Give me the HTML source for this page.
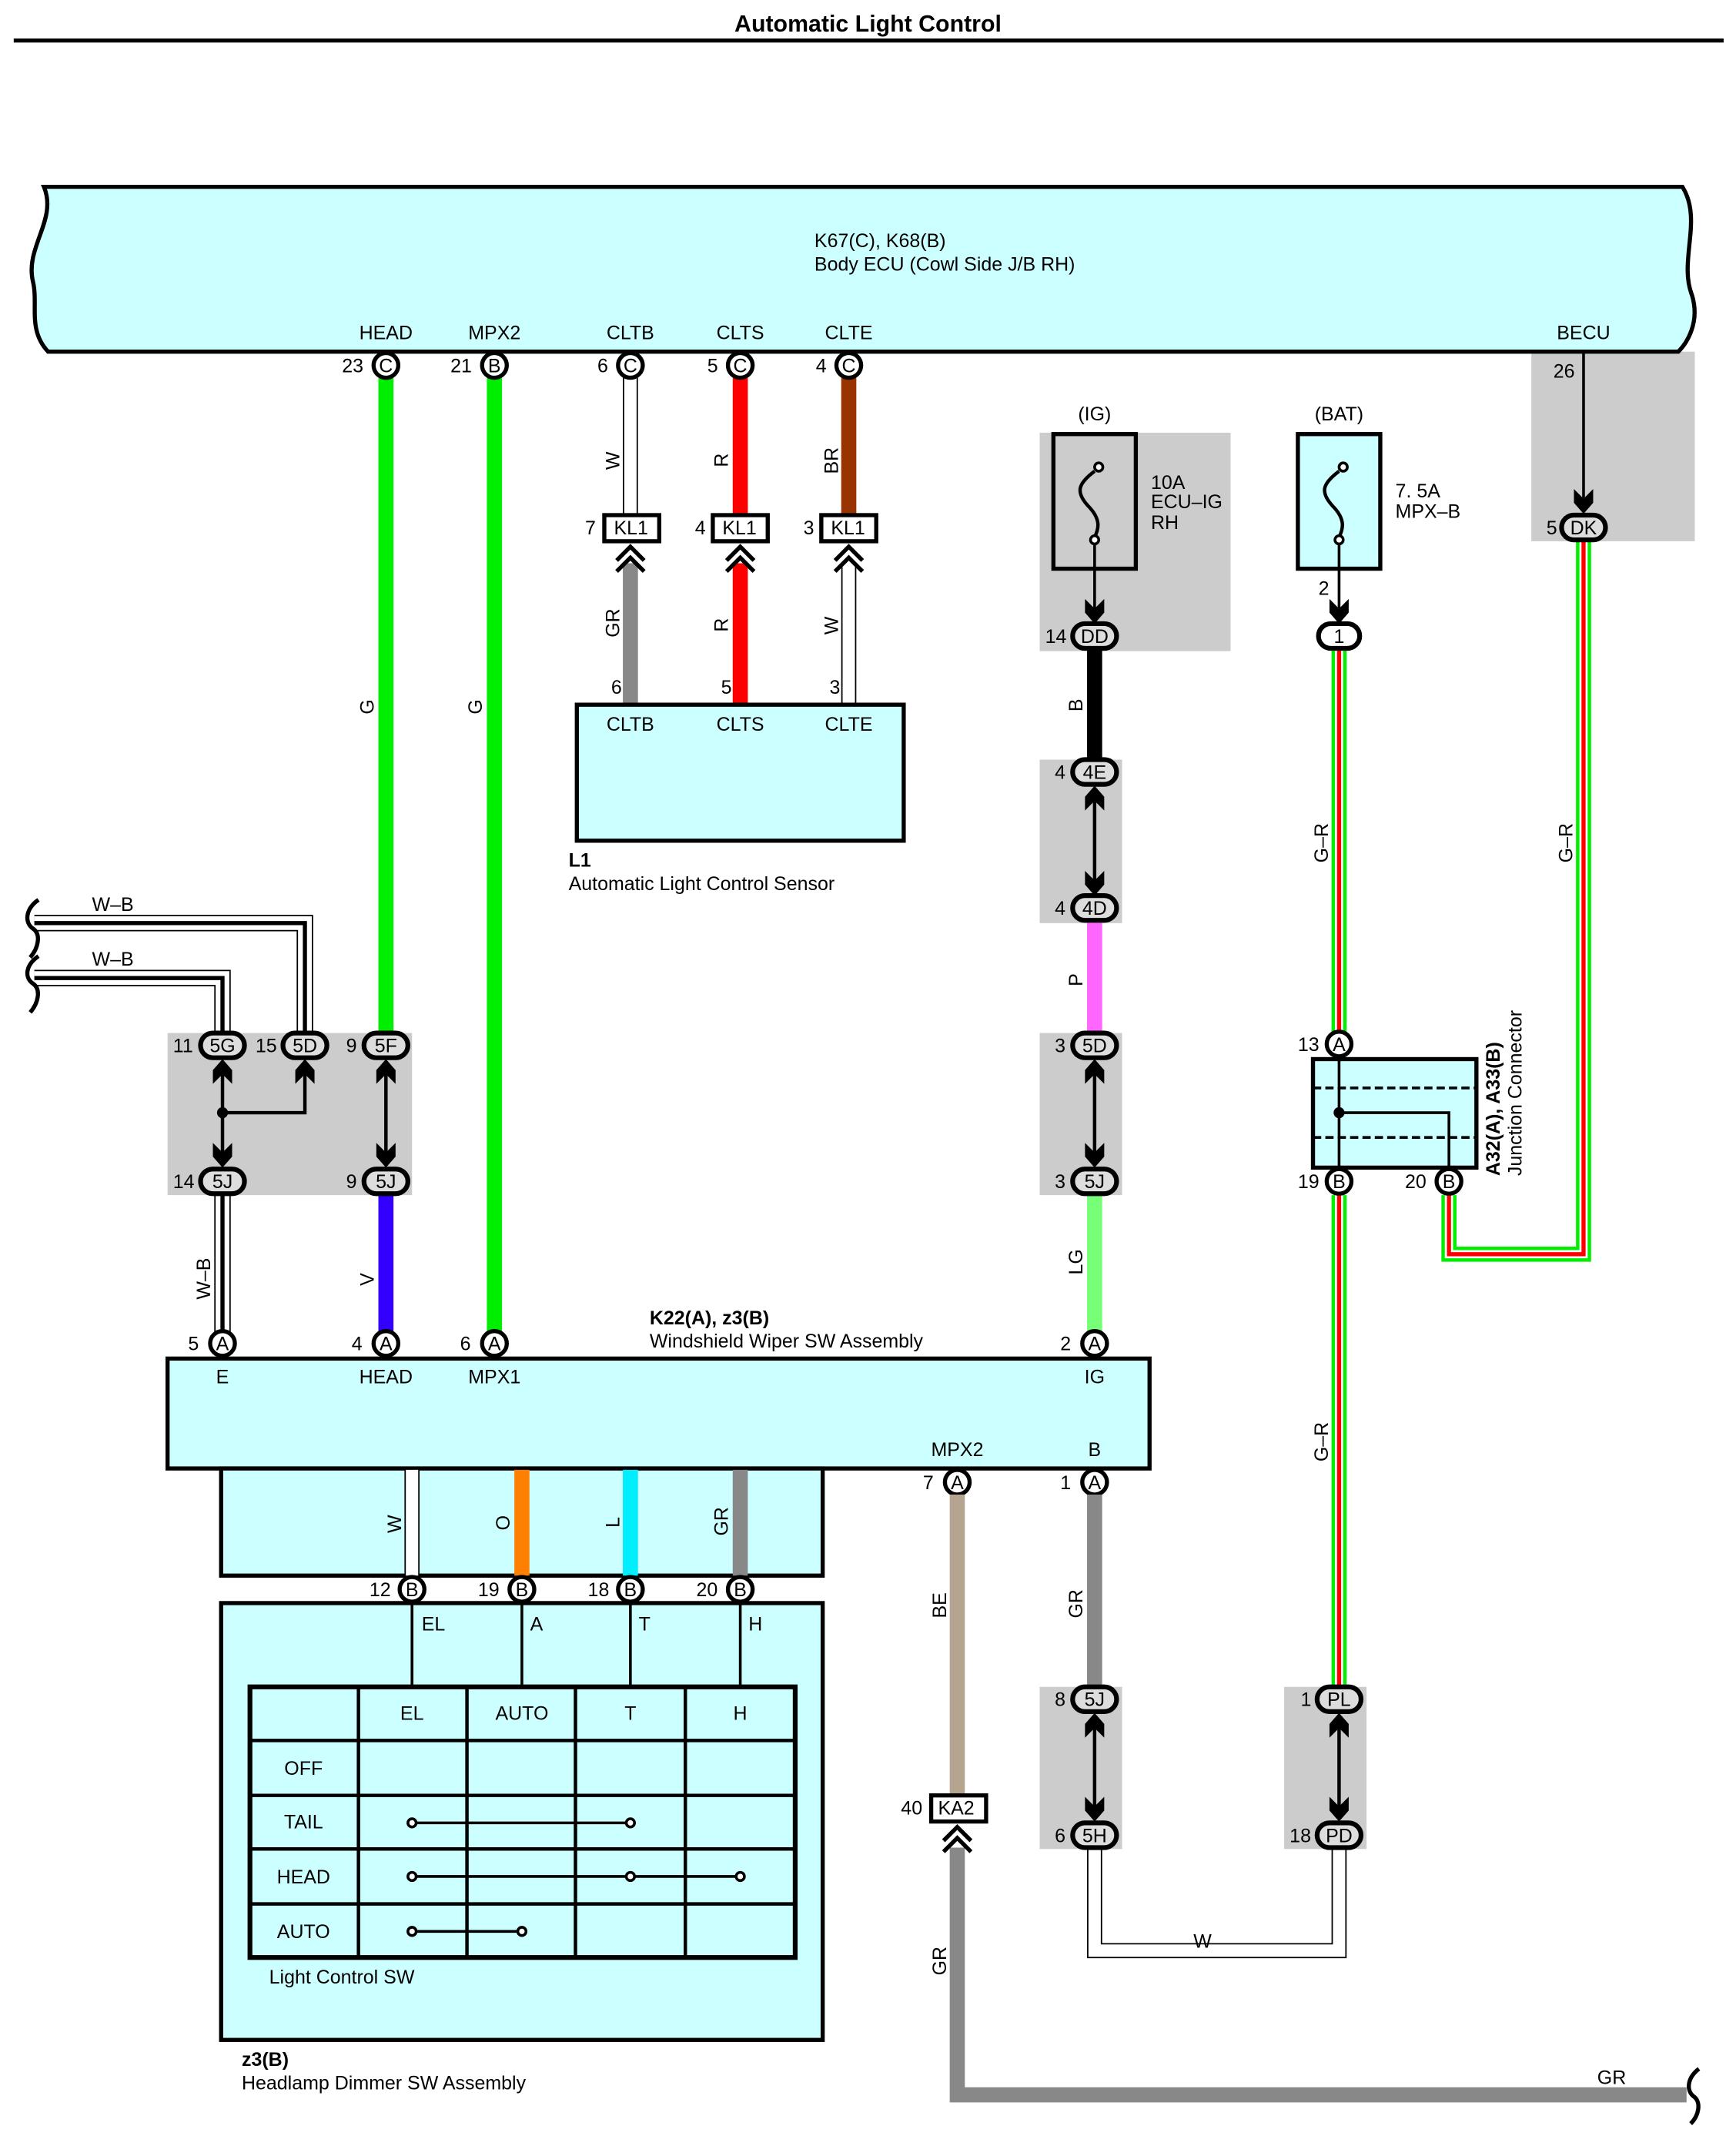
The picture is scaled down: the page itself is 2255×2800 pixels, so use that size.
<!DOCTYPE html>
<html><head><meta charset="utf-8"><style>
html,body{margin:0;padding:0;background:#fff}
svg{display:block}
text{font-family:"Liberation Sans",sans-serif;font-size:14px;fill:#000}
.b{font-weight:bold}
</style></head><body>
<svg width="2255" height="2800" viewBox="0 0 1264 1569.5" xmlns="http://www.w3.org/2000/svg">
<defs>
<path id="ad" d="M-7,-18 L0,-11 L7,-18 L7,-8 L0,0 L-7,-8 Z" fill="#000"/>
<path id="au" d="M-7,18 L0,11 L7,18 L7,8 L0,0 L-7,8 Z" fill="#000"/>
<path id="chev" d="M-10,8 L0,-2 L10,8 M-10,16 L0,6 L10,16" fill="none" stroke="#000" stroke-width="3"/>
</defs>
<!-- title -->
<text x="632" y="23" text-anchor="middle" class="b" style="font-size:17px">Automatic Light Control</text>
<line x1="10" y1="29.5" x2="1255" y2="29.5" stroke="#000" stroke-width="3"/>

<!-- gray boxes -->
<rect x="1115" y="256" width="119" height="138" fill="#cccccc"/>
<rect x="757" y="315" width="139" height="159" fill="#cccccc"/>
<rect x="757" y="553" width="60" height="119" fill="#cccccc"/>
<rect x="757" y="752" width="60" height="118" fill="#cccccc"/>
<rect x="122" y="752" width="178" height="118" fill="#cccccc"/>
<rect x="757" y="1228" width="60" height="118" fill="#cccccc"/>
<rect x="935" y="1228" width="60" height="118" fill="#cccccc"/>

<!-- ECU -->
<path d="M32,136 L1225,136 C1240,160 1222,190 1232,215 C1238,235 1228,250 1222,256 L35,256 C20,240 28,222 24,205 C18,180 42,160 32,136 Z" fill="#ccffff" stroke="#000" stroke-width="3"/>
<text x="593" y="180">K67(C), K68(B)</text>
<text x="593" y="197">Body ECU (Cowl Side J/B RH)</text>
<g text-anchor="middle">
<text x="281" y="247">HEAD</text><text x="360" y="247">MPX2</text><text x="459" y="247">CLTB</text><text x="539" y="247">CLTS</text><text x="618" y="247">CLTE</text><text x="1153" y="247">BECU</text>
</g>

<!-- wires top -->
<line x1="281" y1="275" x2="281" y2="752" stroke="#00ee00" stroke-width="11"/>
<line x1="360" y1="275" x2="360" y2="970" stroke="#00ee00" stroke-width="11"/>
<line x1="459" y1="275" x2="459" y2="376" stroke="#000" stroke-width="11"/><line x1="459" y1="275" x2="459" y2="376" stroke="#fff" stroke-width="9"/>
<line x1="539" y1="275" x2="539" y2="376" stroke="#ff0000" stroke-width="11"/>
<line x1="618" y1="275" x2="618" y2="376" stroke="#993300" stroke-width="11"/>
<line x1="459" y1="410" x2="459" y2="513" stroke="#888" stroke-width="11"/>
<line x1="539" y1="410" x2="539" y2="513" stroke="#ff0000" stroke-width="11"/>
<line x1="618" y1="410" x2="618" y2="513" stroke="#000" stroke-width="11"/><line x1="618" y1="410" x2="618" y2="513" stroke="#fff" stroke-width="9"/>
<g font-size="14">
<text transform="translate(272,520) rotate(-90)">G</text>
<text transform="translate(351,520) rotate(-90)">G</text>
<text transform="translate(451,342) rotate(-90)">W</text>
<text transform="translate(530,340) rotate(-90)">R</text>
<text transform="translate(610,345) rotate(-90)">BR</text>
<text transform="translate(451,464) rotate(-90)">GR</text>
<text transform="translate(530,460) rotate(-90)">R</text>
<text transform="translate(610,462) rotate(-90)">W</text>
</g>
<!-- KL1 -->
<g fill="#fff" stroke="#000" stroke-width="3">
<rect x="440" y="375" width="40" height="19"/><rect x="519" y="375" width="40" height="19"/><rect x="598" y="375" width="40" height="19"/>
</g>
<text x="447" y="389">KL1</text><text x="526" y="389">KL1</text><text x="605" y="389">KL1</text>
<text x="426" y="389">7</text><text x="506" y="389">4</text><text x="585" y="389">3</text>
<use href="#chev" x="459" y="400"/><use href="#chev" x="539" y="400"/><use href="#chev" x="618" y="400"/>
<text x="445" y="505">6</text><text x="525" y="505">5</text><text x="604" y="505">3</text>
<!-- L1 -->
<rect x="420" y="513" width="238" height="99" fill="#ccffff" stroke="#000" stroke-width="3"/>
<g text-anchor="middle"><text x="459" y="532">CLTB</text><text x="539" y="532">CLTS</text><text x="618" y="532">CLTE</text></g>
<text x="414" y="631" class="b">L1</text>
<text x="414" y="648">Automatic Light Control Sensor</text>

<!-- pin circles ECU -->
<g fill="#fff" stroke="#000" stroke-width="3">
<circle cx="281" cy="266" r="9"/><circle cx="360" cy="266" r="9"/><circle cx="459" cy="266" r="9"/><circle cx="539" cy="266" r="9"/><circle cx="618" cy="266" r="9"/>
</g>
<g font-size="12" text-anchor="middle"><text x="281" y="271">C</text><text x="360" y="271">B</text><text x="459" y="271">C</text><text x="539" y="271">C</text><text x="618" y="271">C</text></g>
<text x="249" y="271">23</text><text x="328" y="271">21</text><text x="435" y="271">6</text><text x="515" y="271">5</text><text x="594" y="271">4</text>

<!-- BECU -->
<text x="1131" y="275">26</text>
<line x1="1153" y1="256" x2="1153" y2="370" stroke="#000" stroke-width="2"/>
<use href="#ad" x="1153" y="374"/>

<!-- G-R wires -->
<g fill="none">
<path d="M1153,393 L1153,913 L1055,913 L1055,870" stroke="#00ee00" stroke-width="11"/>
<path d="M1153,393 L1153,913 L1055,913 L1055,870" stroke="#fff" stroke-width="6"/>
<path d="M1153,393 L1153,913 L1055,913 L1055,870" stroke="#ff0000" stroke-width="3"/>
<path d="M975,472 L975,752 M975,870 L975,1228" stroke="#00ee00" stroke-width="11"/>
<path d="M975,472 L975,752 M975,870 L975,1228" stroke="#fff" stroke-width="6"/>
<path d="M975,472 L975,752 M975,870 L975,1228" stroke="#ff0000" stroke-width="3"/>
</g>
<text transform="translate(1145,628) rotate(-90)">G–R</text>
<text transform="translate(967,628) rotate(-90)">G–R</text>
<text transform="translate(967,1064) rotate(-90)">G–R</text>

<!-- IG fuse -->
<text x="797" y="306" text-anchor="middle">(IG)</text>
<rect x="767" y="316" width="60" height="98" fill="#cccccc" stroke="#000" stroke-width="3"/>
<path d="M797,343 C785,352 783,358 792,368 C802,378 800,385 797,391" fill="none" stroke="#000" stroke-width="2.5"/>
<circle cx="800" cy="340" r="3" fill="#fff" stroke="#000" stroke-width="2"/>
<circle cx="797" cy="393" r="3" fill="#fff" stroke="#000" stroke-width="2"/>
<line x1="797" y1="396" x2="797" y2="450" stroke="#000" stroke-width="2"/>
<use href="#ad" x="797" y="454"/>
<text x="838" y="356">10A</text><text x="838" y="370">ECU–IG</text><text x="838" y="385">RH</text>
<!-- BAT fuse -->
<text x="975" y="306" text-anchor="middle">(BAT)</text>
<rect x="945" y="316" width="60" height="98" fill="#ccffff" stroke="#000" stroke-width="3"/>
<path d="M975,343 C963,352 961,358 970,368 C980,378 978,385 975,391" fill="none" stroke="#000" stroke-width="2.5"/>
<circle cx="978" cy="340" r="3" fill="#fff" stroke="#000" stroke-width="2"/>
<circle cx="975" cy="393" r="3" fill="#fff" stroke="#000" stroke-width="2"/>
<line x1="975" y1="396" x2="975" y2="450" stroke="#000" stroke-width="2"/>
<use href="#ad" x="975" y="454"/>
<text x="1016" y="362">7. 5A</text><text x="1016" y="377">MPX–B</text>
<text x="960" y="433">2</text>

<!-- middle column wires -->
<line x1="797" y1="472" x2="797" y2="553" stroke="#000" stroke-width="11"/>
<line x1="797" y1="670" x2="797" y2="752" stroke="#ff66ff" stroke-width="11"/>
<line x1="797" y1="870" x2="797" y2="970" stroke="#77ff77" stroke-width="11"/>
<text transform="translate(788,518) rotate(-90)">B</text>
<text transform="translate(788,718) rotate(-90)">P</text>
<text transform="translate(788,928) rotate(-90)">LG</text>
<line x1="797" y1="580" x2="797" y2="645" stroke="#000" stroke-width="2.5"/>
<use href="#au" x="797" y="572"/><use href="#ad" x="797" y="652"/>
<line x1="797" y1="778" x2="797" y2="845" stroke="#000" stroke-width="2.5"/>
<use href="#au" x="797" y="771"/><use href="#ad" x="797" y="850"/>

<!-- A32 -->
<rect x="956" y="771" width="119" height="79" fill="#ccffff" stroke="#000" stroke-width="3"/>
<line x1="956" y1="792" x2="1075" y2="792" stroke="#000" stroke-width="2" stroke-dasharray="6,3"/>
<line x1="956" y1="828" x2="1075" y2="828" stroke="#000" stroke-width="2" stroke-dasharray="6,3"/>
<path d="M975,760 L975,860 M975,810 L1055,810 L1055,860" fill="none" stroke="#000" stroke-width="2"/>
<circle cx="975" cy="810" r="4" fill="#000"/>
<text transform="translate(1092,856) rotate(-90)" class="b">A32(A), A33(B)</text>
<text transform="translate(1108,856) rotate(-90)">Junction Connector</text>
<g fill="#fff" stroke="#000" stroke-width="3"><circle cx="975" cy="760" r="9"/><circle cx="975" cy="860" r="9"/><circle cx="1055" cy="860" r="9"/></g>
<g font-size="12" text-anchor="middle"><text x="975" y="765">A</text><text x="975" y="865">B</text><text x="1055" y="865">B</text></g>
<text x="945" y="765">13</text><text x="945" y="865">19</text><text x="1023" y="865">20</text>

<!-- left W-B -->
<g fill="none">
<path d="M25,672 L222,672 L222,752" stroke="#000" stroke-width="12"/>
<path d="M25,672 L222,672 L222,752" stroke="#fff" stroke-width="10"/>
<path d="M25,672 L222,672 L222,752" stroke="#000" stroke-width="3"/>
<path d="M25,712 L162,712 L162,752" stroke="#000" stroke-width="12"/>
<path d="M25,712 L162,712 L162,752" stroke="#fff" stroke-width="10"/>
<path d="M25,712 L162,712 L162,752" stroke="#000" stroke-width="3"/>
<path d="M162,870 L162,970" stroke="#000" stroke-width="12"/>
<path d="M162,870 L162,970" stroke="#fff" stroke-width="10"/>
<path d="M162,870 L162,970" stroke="#000" stroke-width="3"/>
<path d="M28,655 C18,662 18,672 24,676 C30,680 28,690 22,697" stroke="#000" stroke-width="3"/>
<path d="M28,696 C18,703 18,712 24,716 C30,720 28,730 22,737" stroke="#000" stroke-width="3"/>
</g>
<text x="67" y="663">W–B</text><text x="67" y="703">W–B</text>
<line x1="281" y1="870" x2="281" y2="970" stroke="#3300ff" stroke-width="11"/>
<text transform="translate(153,946) rotate(-90)">W–B</text>
<text transform="translate(272,936) rotate(-90)">V</text>
<path d="M162,780 L162,845 M162,810 L222,810 L222,780 M281,780 L281,845" fill="none" stroke="#000" stroke-width="2.5"/>
<circle cx="162" cy="810" r="4" fill="#000"/>
<use href="#au" x="162" y="771"/><use href="#au" x="222" y="771"/><use href="#au" x="281" y="771"/>
<use href="#ad" x="162" y="850"/><use href="#ad" x="281" y="850"/>

<!-- K22 -->
<rect x="122" y="989" width="715" height="80" fill="#ccffff" stroke="#000" stroke-width="3"/>
<text x="473" y="964" class="b">K22(A), z3(B)</text>
<text x="473" y="981">Windshield Wiper SW Assembly</text>
<g text-anchor="middle"><text x="162" y="1007">E</text><text x="281" y="1007">HEAD</text><text x="360" y="1007">MPX1</text><text x="797" y="1007">IG</text>
<text x="697" y="1060">MPX2</text><text x="797" y="1060">B</text></g>
<g fill="#fff" stroke="#000" stroke-width="3"><circle cx="162" cy="978" r="9"/><circle cx="281" cy="978" r="9"/><circle cx="360" cy="978" r="9"/><circle cx="797" cy="978" r="9"/><circle cx="697" cy="1079" r="9"/><circle cx="797" cy="1079" r="9"/></g>
<g font-size="12" text-anchor="middle"><text x="162" y="983">A</text><text x="281" y="983">A</text><text x="360" y="983">A</text><text x="797" y="983">A</text><text x="697" y="1084">A</text><text x="797" y="1084">A</text></g>
<text x="137" y="983">5</text><text x="256" y="983">4</text><text x="335" y="983">6</text><text x="772" y="983">2</text><text x="672" y="1084">7</text><text x="772" y="1084">1</text>

<!-- sub box -->
<rect x="161" y="1069" width="438" height="78" fill="#ccffff" stroke="#000" stroke-width="3"/>
<line x1="300" y1="1070" x2="300" y2="1147" stroke="#000" stroke-width="11"/><line x1="300" y1="1070" x2="300" y2="1147" stroke="#fff" stroke-width="9"/>
<line x1="380" y1="1070" x2="380" y2="1147" stroke="#ff8000" stroke-width="11"/>
<line x1="459" y1="1070" x2="459" y2="1147" stroke="#00eeff" stroke-width="11"/>
<line x1="539" y1="1070" x2="539" y2="1147" stroke="#888" stroke-width="11"/>
<text transform="translate(292,1116) rotate(-90)">W</text>
<text transform="translate(371,1114) rotate(-90)">O</text>
<text transform="translate(451,1112) rotate(-90)">L</text>
<text transform="translate(530,1118) rotate(-90)">GR</text>
<!-- dimmer -->
<rect x="161" y="1167" width="438" height="318" fill="#ccffff" stroke="#000" stroke-width="3"/>
<g stroke="#000" stroke-width="2"><line x1="300" y1="1157" x2="300" y2="1227"/><line x1="380" y1="1157" x2="380" y2="1227"/><line x1="459" y1="1157" x2="459" y2="1227"/><line x1="539" y1="1157" x2="539" y2="1227"/></g>
<g fill="#fff" stroke="#000" stroke-width="3"><circle cx="300" cy="1157" r="9"/><circle cx="380" cy="1157" r="9"/><circle cx="459" cy="1157" r="9"/><circle cx="539" cy="1157" r="9"/></g>
<g font-size="12" text-anchor="middle"><text x="300" y="1162">B</text><text x="380" y="1162">B</text><text x="459" y="1162">B</text><text x="539" y="1162">B</text></g>
<text x="269" y="1162">12</text><text x="348" y="1162">19</text><text x="428" y="1162">18</text><text x="507" y="1162">20</text>
<text x="307" y="1187">EL</text><text x="386" y="1187">A</text><text x="465" y="1187">T</text><text x="545" y="1187">H</text>
<rect x="182" y="1228" width="397" height="197" fill="none" stroke="#000" stroke-width="3.5"/>
<g stroke="#000" stroke-width="2.5">
<line x1="261" y1="1228" x2="261" y2="1425"/><line x1="340" y1="1228" x2="340" y2="1425"/><line x1="419" y1="1228" x2="419" y2="1425"/><line x1="499" y1="1228" x2="499" y2="1425"/>
<line x1="182" y1="1267" x2="579" y2="1267"/><line x1="182" y1="1307" x2="579" y2="1307"/><line x1="182" y1="1346" x2="579" y2="1346"/><line x1="182" y1="1386" x2="579" y2="1386"/>
</g>
<g text-anchor="middle"><text x="300" y="1252">EL</text><text x="380" y="1252">AUTO</text><text x="459" y="1252">T</text><text x="539" y="1252">H</text>
<text x="221" y="1292">OFF</text><text x="221" y="1331">TAIL</text><text x="221" y="1371">HEAD</text><text x="221" y="1411">AUTO</text></g>
<g stroke="#000" stroke-width="2"><line x1="300" y1="1327" x2="459" y2="1327"/><line x1="300" y1="1366" x2="539" y2="1366"/><line x1="300" y1="1406" x2="380" y2="1406"/></g>
<g fill="#fff" stroke="#000" stroke-width="2">
<circle cx="300" cy="1327" r="3"/><circle cx="459" cy="1327" r="3"/><circle cx="300" cy="1366" r="3"/><circle cx="459" cy="1366" r="3"/><circle cx="539" cy="1366" r="3"/><circle cx="300" cy="1406" r="3"/><circle cx="380" cy="1406" r="3"/></g>
<text x="196" y="1444">Light Control SW</text>
<text x="176" y="1504" class="b">z3(B)</text>
<text x="176" y="1521">Headlamp Dimmer SW Assembly</text>

<!-- MPX2 BE / GR -->
<line x1="697" y1="1088" x2="697" y2="1307" stroke="#b5a48f" stroke-width="11"/>
<text transform="translate(689,1178) rotate(-90)">BE</text>
<rect x="678" y="1307" width="40" height="19" fill="#fff" stroke="#000" stroke-width="3"/>
<text x="683" y="1321">KA2</text><text x="656" y="1321">40</text>
<path d="M697,1345 L697,1525 L1228,1525" fill="none" stroke="#888" stroke-width="11"/>
<use href="#chev" x="697" y="1332"/>
<path d="M1237,1506 C1228,1513 1228,1522 1233,1526 C1239,1530 1237,1540 1231,1546" fill="none" stroke="#000" stroke-width="3"/>
<text transform="translate(689,1438) rotate(-90)">GR</text>
<text x="1163" y="1517">GR</text>
<line x1="797" y1="1088" x2="797" y2="1228" stroke="#888" stroke-width="11"/>
<text transform="translate(788,1178) rotate(-90)">GR</text>
<path d="M797,1255 L797,1320 M975,1255 L975,1320" stroke="#000" stroke-width="2.5"/>
<use href="#au" x="797" y="1247"/><use href="#ad" x="797" y="1326"/>
<use href="#au" x="975" y="1247"/><use href="#ad" x="975" y="1326"/>
<path d="M797,1346 L797,1420 L975,1420 L975,1346" fill="none" stroke="#000" stroke-width="11"/>
<path d="M797,1346 L797,1420 L975,1420 L975,1346" fill="none" stroke="#fff" stroke-width="9"/>
<text x="869" y="1418">W</text>

<!-- connector ovals -->
<g stroke="#000" stroke-width="3.5">
<rect x="1137" y="375" width="32" height="18" rx="9" fill="#ddd"/>
<rect x="781" y="454" width="32" height="18" rx="9" fill="#ddd"/>
<rect x="960" y="454" width="30" height="18" rx="9" fill="#fff"/>
<rect x="781" y="553" width="32" height="18" rx="9" fill="#ddd"/>
<rect x="781" y="652" width="32" height="18" rx="9" fill="#ddd"/>
<rect x="781" y="752" width="32" height="18" rx="9" fill="#ddd"/>
<rect x="781" y="851" width="32" height="18" rx="9" fill="#ddd"/>
<rect x="146" y="752" width="32" height="18" rx="9" fill="#ddd"/>
<rect x="206" y="752" width="32" height="18" rx="9" fill="#ddd"/>
<rect x="265" y="752" width="32" height="18" rx="9" fill="#ddd"/>
<rect x="146" y="851" width="32" height="18" rx="9" fill="#ddd"/>
<rect x="265" y="851" width="32" height="18" rx="9" fill="#ddd"/>
<rect x="781" y="1228" width="32" height="18" rx="9" fill="#ddd"/>
<rect x="781" y="1327" width="32" height="18" rx="9" fill="#ddd"/>
<rect x="959" y="1228" width="32" height="18" rx="9" fill="#ddd"/>
<rect x="959" y="1327" width="32" height="18" rx="9" fill="#ddd"/>
</g>
<g text-anchor="middle">
<text x="1153" y="389">DK</text><text x="797" y="468">DD</text><text x="975" y="468">1</text>
<text x="797" y="567">4E</text><text x="797" y="666">4D</text><text x="797" y="766">5D</text><text x="797" y="865">5J</text>
<text x="162" y="766">5G</text><text x="222" y="766">5D</text><text x="281" y="766">5F</text><text x="162" y="865">5J</text><text x="281" y="865">5J</text>
<text x="797" y="1242">5J</text><text x="797" y="1341">5H</text><text x="975" y="1242">PL</text><text x="975" y="1341">PD</text>
</g>
<text x="1126" y="389">5</text><text x="761" y="468">14</text>
<text x="768" y="567">4</text><text x="768" y="666">4</text><text x="768" y="766">3</text><text x="768" y="865">3</text>
<text x="126" y="766">11</text><text x="186" y="766">15</text><text x="252" y="766">9</text><text x="126" y="865">14</text><text x="252" y="865">9</text>
<text x="768" y="1242">8</text><text x="768" y="1341">6</text><text x="947" y="1242">1</text><text x="939" y="1341">18</text>
</svg>
</body></html>
